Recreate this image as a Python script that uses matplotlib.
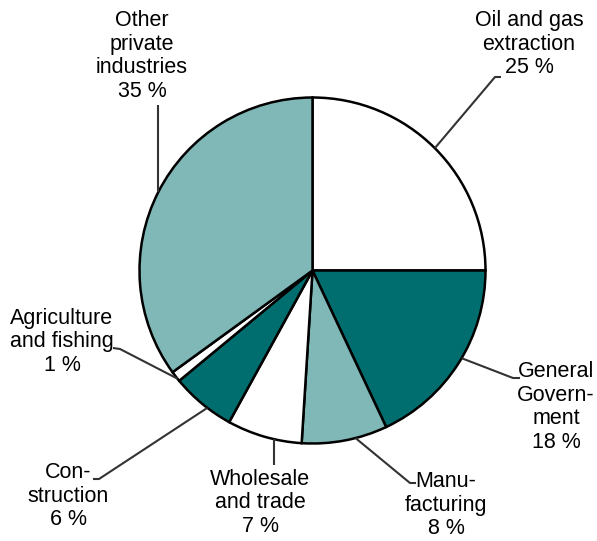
import numpy as np
import matplotlib
matplotlib.use("Agg")
import matplotlib.pyplot as plt

# Share of value added by industry (per cent)
labels = ["Oil and gas\nextraction", "General\nGovern-\nment", "Manu-\nfacturing",
          "Wholesale\nand trade", "Con-\nstruction", "Agriculture\nand fishing",
          "Other\nprivate\nindustries"]
shares = [25, 18, 8, 7, 6, 1, 35]
colors = ["#ffffff", "#006e6e", "#80b8b8", "#ffffff", "#006e6e", "#ffffff", "#80b8b8"]

W, H = 597, 541
fig = plt.figure(figsize=(W / 100, H / 100), dpi=100)
ax = fig.add_axes([0, 0, 1, 1])

cx, cy, r = 312.5, H - 270.5, 173
ax.pie(shares, colors=colors, startangle=90, counterclock=False,
       center=(cx, cy), radius=r, frame=True,
       wedgeprops=dict(edgecolor="black", linewidth=1.8))
ax.set_xlim(0, W)
ax.set_ylim(0, H)
ax.set_aspect("equal")
ax.axis("off")

# label layout: (position of leader start within wedge, elbow points, text centre)
# an elbow x of None keeps the leader vertical
layout = [
    (0.50, [(495, 77), (501, 77)], (529, 44)),
    (0.47, [(513, 378), (520, 378)], (556, 407)),
    (0.375, [(410, 483), (416, 483)], (446, 505)),
    (0.37, [(None, 465)], (260, 503)),
    (0.40, [(99, 479), (93, 479)], (68, 496)),
    (0.25, [(120, 349), (113, 348)], (62, 342)),
    (0.50, [(None, 105)], (142, 56)),
]

cum = 0
for val, lab, (frac, pts, tpos) in zip(shares, labels, layout):
    ang = np.deg2rad(90 - 360 * (cum + frac * val) / 100)
    cum += val
    sx, sy = cx + r * np.cos(ang), cy + r * np.sin(ang)
    xs = [sx] + [sx if p[0] is None else p[0] for p in pts]
    ys = [sy] + [H - p[1] for p in pts]
    ax.plot(xs, ys, color="#333333", lw=1.5, solid_capstyle="butt", zorder=1)
    ax.text(tpos[0], H - tpos[1], f"{lab}\n{val} %", ha="center", va="center",
            fontsize=15.5, family="Liberation Sans", linespacing=1.16, color="black")

fig.savefig("out.png", dpi=100)
